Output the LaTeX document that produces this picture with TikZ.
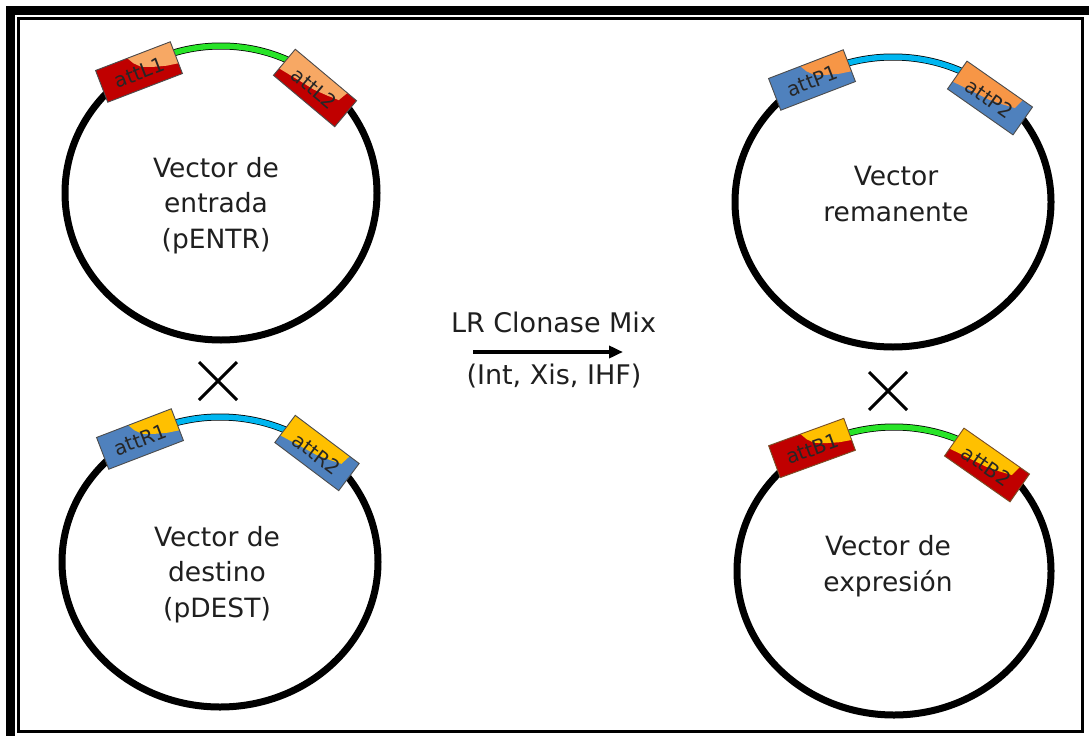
\documentclass[tikz,border=0pt]{standalone}
\usepackage{fontspec}
\setmainfont{DejaVu Sans}
\usetikzlibrary{arrows.meta}
\definecolor{dred}{RGB}{192,0,0}
\definecolor{peach}{RGB}{247,168,100}
\definecolor{porange}{RGB}{247,150,70}
\definecolor{pblue}{RGB}{79,129,189}
\definecolor{pyellow}{RGB}{255,192,0}
\definecolor{igreen}{RGB}{40,228,40}
\definecolor{icyan}{RGB}{0,182,240}
\definecolor{brownline}{RGB}{120,80,40}
\tikzset{
 plasmid/.style={line width=7pt, draw=black},
 insert/.style={line width=5.5pt, draw=#1},
 boxline/.style={line width=0.9pt, draw=#1},
 atttext/.style={font=\fontsize{20}{20}\selectfont, text=black!85, inner sep=0pt, transform shape},
 vtext/.style={font=\fontsize{26.5}{35.5}\selectfont, text=black!88, inner sep=0pt},
 ctext/.style={font=\fontsize{27}{27}\selectfont, text=black!88, inner sep=0pt},
 cross/.style={line width=3pt, draw=black},
}
% #1 name, #2 x, #3 y, #4 rot, #5 primary, #6 secondary, #7 label, #8 type, #9 outline
\newcommand{\attbox}[9]{%
 \begin{scope}[shift={(#2,#3)},rotate=#4]
  \fill[#5] (-40,-17) rectangle (40,17);
  \ifnum#8=1
   \fill[#6] (-6,-17) -- (40,-17) -- (40,6) -- (28,4) -- (14,0) -- (4,-4) -- (-2,-10) -- cycle;
  \else
   \fill[#6] (-40,-17) -- (28,-17) -- (26,-6) -- (14,-2) -- (0,2) -- (-14,4) -- (-40,8) -- cycle;
  \fi
  \draw[boxline=#9] (-40,-17) rectangle (40,17);
  \node[atttext] (#1) at (0,1) {#7};
 \end{scope}}
\begin{document}
\begin{tikzpicture}[x=1pt,y=-1pt]
\useasboundingbox (0,0) rectangle (1089,736);
\fill[white] (0,0) rectangle (1089,736);
% frame
\fill[black] (6,6) rectangle (1089,15);
\fill[black] (6,6) rectangle (15,736);
\draw[line width=3pt] (18.5,18.5) rectangle (1082,731.5);

% plasmid 1 : pENTR
\draw[plasmid] (221,193) ellipse [x radius=156, y radius=147];
\draw[insert=igreen] (221,193) ++(-123:156 and 147) arc[start angle=-123, end angle=-50, x radius=156, y radius=147];
\attbox{attL1}{139}{72}{21}{dred}{peach}{attL1}{1}{black!70}
\attbox{attL2}{315}{88}{-40}{dred}{peach}{attL2}{2}{black!70}
\node[vtext, align=center, anchor=base] (pentr) at (216,248) {Vector de\\entrada\\(pENTR)};

% plasmid 2 : pDEST
\draw[plasmid] (220,562) ellipse [x radius=158, y radius=145];
\draw[insert=icyan] (220,562) ++(-121:158 and 145) arc[start angle=-121, end angle=-51, x radius=158, y radius=145];
\attbox{attR1}{140}{439}{21}{pblue}{pyellow}{attR1}{1}{black!70}
\attbox{attR2}{317}{453}{-37}{pblue}{pyellow}{attR2}{2}{black!70}
\node[vtext, align=center, anchor=base] (pdest) at (217,617) {Vector de\\destino\\(pDEST)};

% plasmid 3 : remanente
\draw[plasmid] (893,202) ellipse [x radius=158, y radius=145];
\draw[insert=icyan] (893,202) ++(-121:158 and 145) arc[start angle=-121, end angle=-50, x radius=158, y radius=145];
\attbox{attP1}{812}{80}{21}{pblue}{porange}{attP1}{1}{black!70}
\attbox{attP2}{990}{98}{-35}{pblue}{porange}{attP2}{2}{black!70}
\node[vtext, align=center, anchor=base] (prem) at (896,221) {Vector\\remanente};

% plasmid 4 : expresion
\draw[plasmid] (894,571) ellipse [x radius=157, y radius=144];
\draw[insert=igreen] (894,571) ++(-121:157 and 144) arc[start angle=-121, end angle=-51, x radius=157, y radius=144];
\attbox{attB1}{812}{448}{20}{dred}{pyellow}{attB1}{1}{brownline}
\attbox{attB2}{987}{465}{-35}{dred}{pyellow}{attB2}{2}{brownline}
\node[vtext, align=center, anchor=base] (pexp) at (888,591) {Vector de\\expresión};

% crosses
\draw[cross] (199,362) -- (237,400) (237,362) -- (199,400);
\draw[cross] (869,372) -- (907,410) (907,372) -- (869,410);

% reaction arrow
\node[ctext, anchor=base] (lr) at (553.5,332) {LR Clonase Mix};
\node[ctext, anchor=base] (enz) at (554,384) {(Int, Xis, IHF)};
\coordinate (arrS) at (473,352);
\coordinate (arrE) at (623,352);
\draw[line width=3.5pt, -{Triangle[length=14pt, width=12pt]}] (arrS) -- (arrE);
\end{tikzpicture}
\end{document}
